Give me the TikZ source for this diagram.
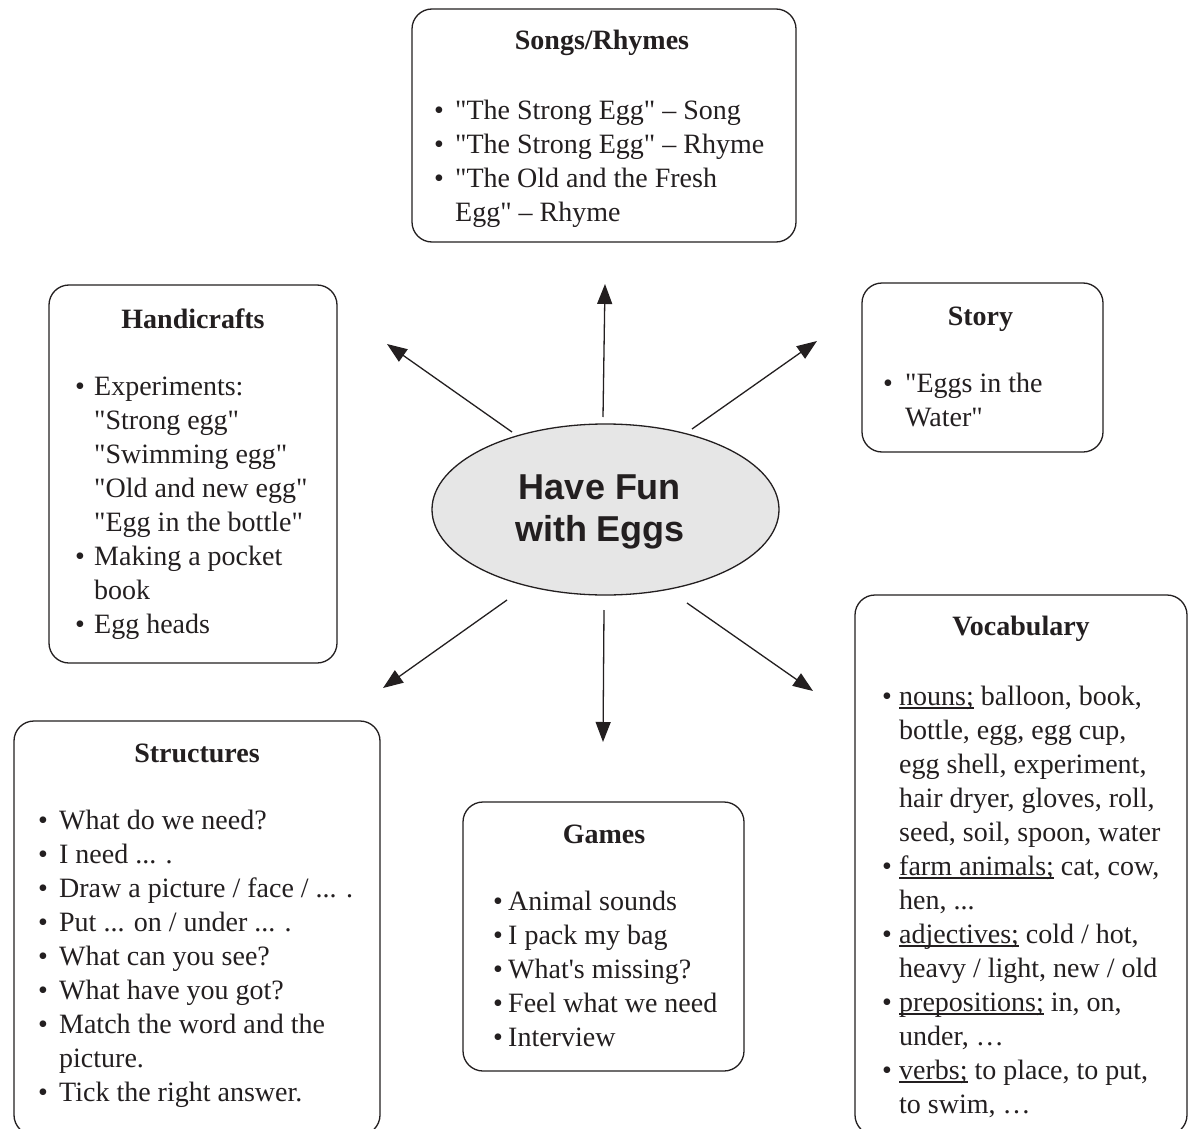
\documentclass[tikz,border=0pt]{standalone}
\usepackage{fontspec}
\setmainfont{Liberation Serif}[Ligatures=TeXOff]
\newfontfamily\arialfont{Liberation Sans}
\usetikzlibrary{arrows.meta,shapes.geometric}
\definecolor{ink}{HTML}{231F20}
\definecolor{eggfill}{HTML}{E6E6E6}
\newlength{\bind}
\newcommand{\bl}{\makebox[\bind][l]{•}}
\newcommand{\ct}{\hspace*{\bind}}
\newcommand{\ulx}[1]{\setbox0\hbox{#1}\rlap{\rule[-3.5pt]{\wd0}{1.1pt}}\box0\relax}
\newcommand{\bodytext}[2]{\parbox[t]{420pt}{\setlength{\bind}{#1}\fontsize{28}{34}\selectfont #2}}
\tikzset{
  box/.style={draw=ink, line width=1.3pt, rounded corners=20pt, rectangle, inner sep=0pt},
  ttl/.style={anchor=base, inner sep=0pt, text=ink, font=\fontsize{28}{34}\selectfont\bfseries},
  bdy/.style={anchor=base west, inner sep=0pt, text=ink},
  arr/.style={draw=ink, line width=1.3pt, -{Triangle[length=20pt,width=15pt]}}
}
\begin{document}
\begin{tikzpicture}[x=1pt,y=-1pt]
\useasboundingbox[fill=white] (0,0) rectangle (1189,1129);

% central ellipse
\node[ellipse, draw=ink, line width=1.3pt, fill=eggfill, minimum width=347pt, minimum height=171pt, inner sep=0pt] (egg) at (605.5,509.5) {};
\node[inner sep=0pt, align=center, text=ink, font=\arialfont\bfseries\fontsize{36}{42}\selectfont] (eggtext) at (600,511.5) {Have Fun\\with Eggs};

% Songs/Rhymes
\node[box, minimum width=384pt, minimum height=233pt] (songs) at (604,125.5) {};
\node[ttl] (songsttl) at (602,50) {Songs/Rhymes};
\node[bdy] (songsbody) at (434,120) {\bodytext{21pt}{%
\bl"The Strong Egg" – Song\\
\bl"The Strong Egg" – Rhyme\\
\bl"The Old and the Fresh\\
\ct Egg" – Rhyme}};

% Handicrafts
\node[box, minimum width=288pt, minimum height=378pt] (handi) at (193,474) {};
\node[ttl] (handittl) at (193,328) {Handicrafts};
\node[bdy] (handibody) at (75,395) {\bodytext{19pt}{%
\bl Experiments:\\
\ct"Strong egg"\\
\ct"Swimming egg"\\
\ct"Old and new egg"\\
\ct"Egg in the bottle"\\
\bl Making a pocket\\
\ct book\\
\bl Egg heads}};

% Story
\node[box, minimum width=241pt, minimum height=169pt] (story) at (982.5,367.5) {};
\node[ttl] (storyttl) at (980.5,325) {Story};
\node[bdy] (storybody) at (883,392) {\bodytext{22pt}{%
\bl"Eggs in the\\
\ct Water"}};

% Vocabulary
\node[box, minimum width=332pt, minimum height=540pt] (vocab) at (1021,865) {};
\node[ttl] (vocabttl) at (1021,635) {Vocabulary};
\node[bdy] (vocabbody) at (882,705) {\bodytext{17pt}{%
\bl\ulx{nouns;} balloon, book,\\
\ct bottle, egg, egg cup,\\
\ct egg shell, experiment,\\
\ct hair dryer, gloves, roll,\\
\ct seed, soil, spoon, water\\
\bl\ulx{farm animals;} cat, cow,\\
\ct hen, ...\\
\bl\ulx{adjectives;} cold / hot,\\
\ct heavy / light, new / old\\
\bl\ulx{prepositions;} in, on,\\
\ct under, …\\
\bl\ulx{verbs;} to place, to put,\\
\ct to swim, …}};

% Structures
\node[box, minimum width=366pt, minimum height=414pt] (struct) at (197,928) {};
\node[ttl] (structttl) at (197,762) {Structures};
\node[bdy] (structbody) at (38,829) {\bodytext{21pt}{%
\bl What do we need?\\
\bl I need ... .\\
\bl Draw a picture / face / ... .\\
\bl Put ... on / under ... .\\
\bl What can you see?\\
\bl What have you got?\\
\bl Match the word and the\\
\ct picture.\\
\bl Tick the right answer.}};

% Games
\node[box, minimum width=281pt, minimum height=269pt] (games) at (603.5,936.5) {};
\node[ttl] (gamesttl) at (604,843) {Games};
\node[bdy] (gamesbody) at (493,910) {\bodytext{15pt}{%
\bl Animal sounds\\
\bl I pack my bag\\
\bl What's missing?\\
\bl Feel what we need\\
\bl Interview}};

% arrows (free-floating)
\coordinate (upS) at (603,417);   \coordinate (upE) at (605,284);
\coordinate (ulS) at (512,432);   \coordinate (ulE) at (387,344);
\coordinate (urS) at (692,429);   \coordinate (urE) at (817,341);
\coordinate (dlS) at (507,600);   \coordinate (dlE) at (383,688);
\coordinate (dnS) at (604,610);   \coordinate (dnE) at (603,742);
\coordinate (drS) at (687,603);   \coordinate (drE) at (813,691);
\draw[arr] (upS) -- (upE);
\draw[arr] (ulS) -- (ulE);
\draw[arr] (urS) -- (urE);
\draw[arr] (dlS) -- (dlE);
\draw[arr] (dnS) -- (dnE);
\draw[arr] (drS) -- (drE);
\end{tikzpicture}
\end{document}
